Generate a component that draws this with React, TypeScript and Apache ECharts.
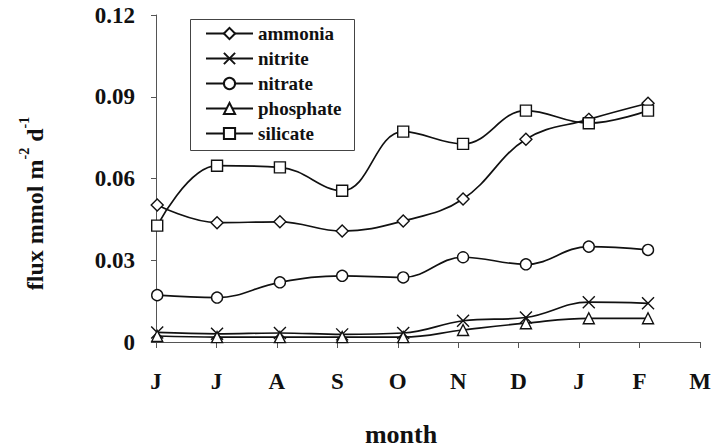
import React, { useEffect, useRef } from "react";
import * as echarts from "echarts";

const monthLabels = ["J", "J", "A", "S", "O", "N", "D", "J", "F", "M"];
// sampling positions in month units from the first tick
const samplePos = [0.02, 1.01, 2.05, 3.08, 4.09, 5.08, 6.12, 7.16, 8.14];

const ammonia = [0.0503, 0.0438, 0.0441, 0.0407, 0.0444, 0.0525, 0.0744, 0.0817, 0.0876];
const nitrite = [0.0035, 0.003, 0.0033, 0.0028, 0.0033, 0.0078, 0.009, 0.0146, 0.0142];
const nitrate = [0.0172, 0.0163, 0.0219, 0.0243, 0.0237, 0.0311, 0.0285, 0.035, 0.0338];
const phosphate = [0.0022, 0.0018, 0.0018, 0.0018, 0.0018, 0.0044, 0.0069, 0.0087, 0.0087];
const silicate = [0.0427, 0.0647, 0.0641, 0.0555, 0.0772, 0.0727, 0.0849, 0.0803, 0.0849];

const yTicks = [0, 0.03, 0.06, 0.09, 0.12];

const FONT = "'Liberation Serif', 'Times New Roman', serif";

const seriesDefs = [
  { name: "ammonia", values: ammonia, symbol: "diamond", size: 12 },
  { name: "nitrite", values: nitrite, symbol: "path://M0 0L10 10M10 0L0 10", size: 12 },
  { name: "nitrate", values: nitrate, symbol: "circle", size: 11 },
  { name: "phosphate", values: phosphate, symbol: "triangle", size: 11 },
  { name: "silicate", values: silicate, symbol: "rect", size: 11 },
];

export default function App() {
  const ref = useRef<HTMLDivElement>(null);
  useEffect(() => {
    if (!ref.current) return;
    const chart = echarts.init(ref.current, undefined, { renderer: "svg" });
    chart.setOption({
      animation: false,
      backgroundColor: "#fff",
      grid: { left: 156, right: 12, top: 15, bottom: 105, containLabel: false, outerBoundsMode: "none" },
      graphic: [
        {
          type: "rect",
          left: 188,
          top: 17,
          shape: { width: 164, height: 131 },
          style: { fill: "none", stroke: "#444", lineWidth: 1 },
          silent: true,
          z: 100,
        },
      ],
      legend: {
        orient: "vertical",
        left: 188,
        top: 17,
        padding: [7, 10, 7, 17],
        itemWidth: 47,
        itemHeight: 14,
        itemGap: 6,
        borderWidth: 0,
        textStyle: { fontFamily: FONT, fontWeight: "bold", fontSize: 19, color: "#111" },
        data: seriesDefs.map((s) => s.name),
      },
      xAxis: {
        type: "value",
        min: 0,
        max: 9,
        interval: 1,
        name: "month",
        nameLocation: "middle",
        nameGap: 79,
        nameTextStyle: {
          fontFamily: FONT,
          fontWeight: "bold",
          fontSize: 26,
          color: "#111",
          padding: [0, 54, 0, 0],
        },
        axisLine: { lineStyle: { color: "#555", width: 1 } },
        axisTick: { show: true, length: 6, lineStyle: { color: "#555" } },
        splitLine: { show: false },
        axisLabel: {
          margin: 28,
          fontFamily: FONT,
          fontWeight: "bold",
          fontSize: 23,
          color: "#111",
          formatter: (v: number) => monthLabels[Math.round(v)] ?? "",
        },
      },
      yAxis: {
        type: "value",
        min: yTicks[0],
        max: yTicks[yTicks.length - 1],
        interval: 0.03,
        name: "{b|flux mmol m}{s|-2}{b| d}{s|-1}",
        nameLocation: "middle",
        nameRotate: 90,
        nameGap: 109,
        nameTextStyle: {
          padding: [0, 50, 0, 0],
          rich: {
            b: { fontFamily: FONT, fontWeight: "bold", fontSize: 24, color: "#111", lineHeight: 30, verticalAlign: "bottom" },
            s: { fontFamily: FONT, fontWeight: "bold", fontSize: 14, color: "#111", lineHeight: 30, verticalAlign: "top", padding: [0, 0, 10, 0] },
          },
        },
        axisLine: { show: true, lineStyle: { color: "#555", width: 1 } },
        axisTick: { show: true, length: 5, lineStyle: { color: "#555" } },
        splitLine: { show: false },
        axisLabel: {
          margin: 21,
          fontFamily: FONT,
          fontWeight: "bold",
          fontSize: 23,
          color: "#111",
          formatter: (v: number) => (v === 0 ? "0" : v.toFixed(2)),
        },
      },
      series: seriesDefs.map((s) => ({
        name: s.name,
        type: "line",
        smooth: 0.4,
        symbol: s.symbol,
        symbolSize: s.size,
        showAllSymbol: true,
        lineStyle: { color: "#111", width: 1.7 },
        itemStyle: { color: "#fff", borderColor: "#111", borderWidth: 1.4 },
        emphasis: { disabled: true },
        data: s.values.map((v, i) => [samplePos[i], v]),
      })),
    });
    return () => chart.dispose();
  }, []);
  return <div ref={ref} style={{ width: 712, height: 447, position: "absolute", left: 0, top: 0 }} />;
}
